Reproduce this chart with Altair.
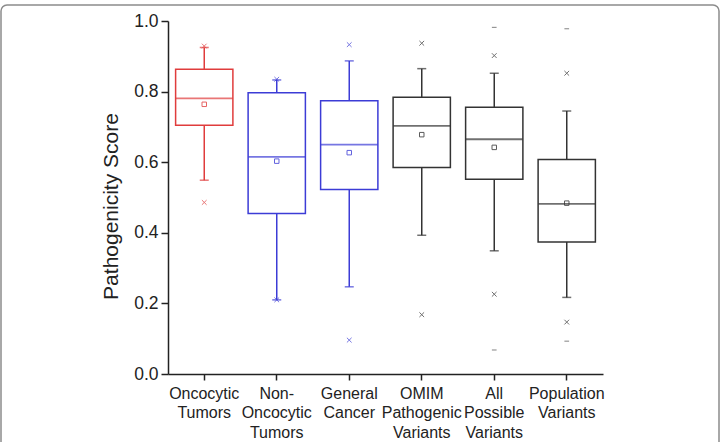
import altair as alt
import pandas as pd

# Groups (line breaks give the stacked axis labels)
groups = [
    "Oncocytic\nTumors",
    "Non-\nOncocytic\nTumors",
    "General\nCancer",
    "OMIM\nPathogenic\nVariants",
    "All\nPossible\nVariants",
    "Population\nVariants",
]
line_colors = ["#e03c3c", "#3c3cd6", "#3c3cd6", "#333333", "#333333", "#333333"]

# Box statistics per group
whisker_low = [0.549, 0.210, 0.247, 0.393, 0.349, 0.217]
q1 = [0.705, 0.455, 0.523, 0.585, 0.552, 0.374]
median = [0.781, 0.615, 0.650, 0.703, 0.665, 0.482]
q3 = [0.863, 0.797, 0.774, 0.784, 0.756, 0.608]
whisker_high = [0.925, 0.833, 0.887, 0.865, 0.852, 0.745]
mean = [0.764, 0.603, 0.627, 0.678, 0.642, 0.484]

# 1st / 99th percentiles (x markers)
pct_low = [0.486, 0.210, 0.096, 0.168, 0.226, 0.147]
pct_high = [0.929, 0.835, 0.933, 0.937, 0.902, 0.852]

# Minimum / maximum (dash markers)
extreme_groups = ["All\nPossible\nVariants", "Population\nVariants"]
extreme_min = [0.068, 0.093]
extreme_max = [0.982, 0.978]

box_df = pd.DataFrame({
    "group": groups,
    "wlo": whisker_low,
    "q1": q1,
    "median": median,
    "q3": q3,
    "whi": whisker_high,
    "mean": mean,
})
pct_df = pd.DataFrame({
    "group": groups * 2,
    "value": pct_low + pct_high,
})
ext_df = pd.DataFrame({
    "group": extreme_groups * 2,
    "value": extreme_min + extreme_max,
})

FONT = "Liberation Sans"

x_enc = alt.X(
    "group:N",
    sort=groups,
    scale=alt.Scale(domain=groups, paddingInner=0, paddingOuter=0),
    axis=alt.Axis(
        title=None,
        labelExpr="split(datum.label, '\\n')",
        labelAngle=0,
        labelFontSize=16,
        labelLineHeight=19.5,
        labelBaseline="top",
        labelPadding=5,
        labelColor="#222222",
        labelFont=FONT,
        tickSize=6,
        tickWidth=1.5,
        tickColor="#222222",
        domainColor="#222222",
        domainWidth=1.5,
    ),
)
y_scale = alt.Scale(domain=[0, 1], nice=False, zero=False)
color_enc = alt.Color(
    "group:N", scale=alt.Scale(domain=groups, range=line_colors), legend=None
)

whiskers = alt.Chart(box_df).mark_rule(strokeWidth=1.5).encode(
    x=x_enc,
    y=alt.Y(
        "wlo:Q",
        scale=y_scale,
        axis=alt.Axis(
            title="Pathogenicity Score",
            values=[round(i * 0.1, 1) for i in range(11)],
            labelExpr="round(datum.value * 10) % 2 == 0 ? format(datum.value, '.1f') : ''",
            tickSize={"condition": {"test": "round(datum.value * 10) % 2 == 0", "value": 7}, "value": 4},
            tickWidth=1.5,
            tickColor="#222222",
            domainColor="#222222",
            domainWidth=1.5,
            labelFontSize=17.5,
            labelColor="#222222",
            labelFont=FONT,
            labelPadding=3,
            titleFontSize=21,
            titleFontWeight="normal",
            titleFont=FONT,
            titleColor="#222222",
            titleX=-47,
            titleY=185,
            grid=False,
        ),
    ),
    y2="whi:Q",
    color=color_enc,
)

caps_low = alt.Chart(box_df).mark_tick(size=9, thickness=1.5).encode(
    x=x_enc, y=alt.Y("wlo:Q", scale=y_scale), color=color_enc
)
caps_high = alt.Chart(box_df).mark_tick(size=9, thickness=1.5).encode(
    x=x_enc, y=alt.Y("whi:Q", scale=y_scale), color=color_enc
)

boxes = alt.Chart(box_df).mark_bar(
    width=alt.RelativeBandSize(0.79), fill="white", strokeWidth=1.5
).encode(
    x=x_enc,
    y=alt.Y("q1:Q", scale=y_scale),
    y2="q3:Q",
    stroke=alt.Stroke("group:N", scale=alt.Scale(domain=groups, range=line_colors), legend=None),
)

medians = alt.Chart(box_df).mark_tick(size=57, thickness=1.8).encode(
    x=x_enc, y=alt.Y("median:Q", scale=y_scale), color=color_enc
)

means = alt.Chart(box_df).mark_point(
    shape="square", filled=False, size=20, strokeWidth=1, opacity=0.8
).encode(
    x=x_enc, y=alt.Y("mean:Q", scale=y_scale), color=color_enc
)

pct_marks = alt.Chart(pct_df).mark_point(
    shape="M-1,-1L1,1M-1,1L1,-1", filled=False, size=22, strokeWidth=1, opacity=0.7
).encode(
    x=x_enc, y=alt.Y("value:Q", scale=y_scale), color=color_enc
)

ext_marks = alt.Chart(ext_df).mark_point(
    shape="M-1,0L1,0", filled=False, size=22, strokeWidth=1, opacity=0.6
).encode(
    x=x_enc, y=alt.Y("value:Q", scale=y_scale), color=color_enc
)

# Rounded frame around the whole figure
frame = alt.Chart(pd.DataFrame({"k": [0]})).mark_rect(
    fill=None, stroke="#8c8c8c", strokeWidth=1.5, cornerRadius=6
).encode(
    x=alt.value(-167), x2=alt.value(551), y=alt.value(-16), y2=alt.value(480)
)

chart = alt.layer(
    frame, whiskers, caps_low, caps_high, boxes, medians, means, pct_marks, ext_marks
).properties(
    width=435,
    height=353,
    padding={"left": 168, "top": 21, "right": 122, "bottom": 68},
    autosize=alt.AutoSizeParams(type="none"),
    background="white",
).configure_view(stroke=None)

chart.save("out.html", embed_options={"renderer": "svg", "actions": False})
